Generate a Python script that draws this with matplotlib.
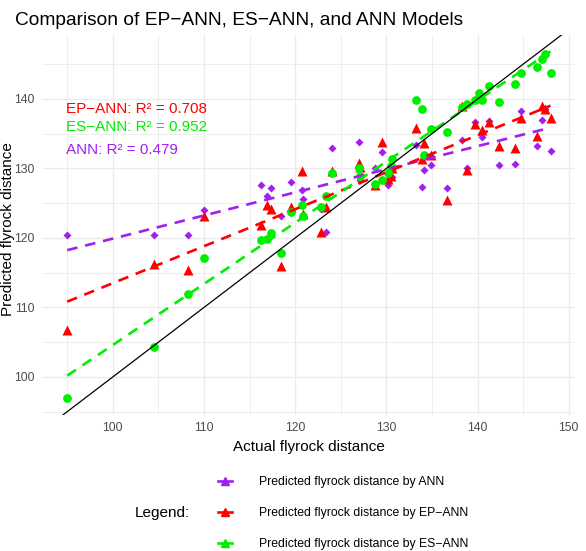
import numpy as np
import matplotlib.pyplot as plt
from matplotlib.lines import Line2D
from matplotlib.ticker import MultipleLocator

plt.rcParams["font.family"] = ["Liberation Sans", "DejaVu Sans"]

# actual flyrock distance (shared x) and predictions of each model
actual = [95.0, 104.5, 108.3, 110.0, 116.2, 116.9, 117.3, 118.4, 119.5, 120.7,
          120.9, 122.8, 123.4, 124.0, 127.0, 127.1, 128.7, 129.5, 130.2, 130.5,
          130.6, 133.3, 133.9, 134.1, 134.9, 136.6, 138.3, 138.8, 139.7, 140.2,
          140.5, 141.2, 142.4, 144.1, 144.8, 146.5, 147.1, 147.4, 148.0]
pred_ann = [120.4, 120.4, 120.4, 124.0, 127.6, 126.0, 127.2, 123.1, 128.1, 126.9,
            125.6, 124.1, 120.9, 132.9, 133.8, 128.4, 130.1, 132.3, 127.6, 129.6,
            128.8, 133.4, 127.3, 129.8, 130.5, 127.2, 134.1, 130.1, 136.7, 140.7,
            134.5, 136.8, 130.5, 130.6, 138.2, 133.2, 137.0, 138.6, 132.5]
pred_ep = [106.7, 116.3, 115.4, 123.1, 121.9, 124.8, 124.1, 116.0, 124.4, 129.6,
           123.5, 120.9, 124.5, 129.6, 130.8, 130.2, 127.6, 133.8, 128.5, 128.9,
           130.0, 135.8, 131.3, 133.6, 132.0, 125.5, 139.0, 129.8, 136.4, 140.7,
           135.6, 136.7, 133.2, 132.9, 137.2, 134.6, 139.0, 138.6, 137.3]
pred_es = [97.0, 104.3, 111.9, 117.1, 119.7, 119.8, 120.7, 117.9, 123.7, 124.8,
           123.2, 124.5, 126.1, 129.4, 130.1, 128.9, 127.7, 128.4, 129.4, 130.3,
           131.4, 139.8, 138.5, 132.0, 135.7, 135.3, 138.9, 139.2, 139.8, 140.8,
           139.8, 141.8, 139.5, 142.1, 143.8, 144.6, 145.8, 146.4, 143.8]

r2_labels = ["EP\u2212ANN: R\u00b2 = 0.708", "ES\u2212ANN: R\u00b2 = 0.952", "ANN: R\u00b2 = 0.479"]

purple = "#A020F0"
red = "#FF0000"
green = "#00EE00"

x = np.array(actual)

fig = plt.figure(figsize=(5.86, 5.51), dpi=100)
ax = fig.add_axes([0.0734, 0.2465, 0.9073, 0.690])

series = [
    (pred_ann, purple, "D", 4.4),
    (pred_ep, red, "^", 7.3),
    (pred_es, green, "o", 6.3),
]
for y, col, mk, ms in series:
    y = np.array(y)
    ax.plot(x, y, ls="none", marker=mk, ms=ms, color=col, mec="none", zorder=3)
    k, b = np.polyfit(x, y, 1)
    xx = np.array([x.min(), x.max()])
    ax.plot(xx, k * xx + b, color=col, lw=1.9, ls=(0, (4, 3)), zorder=4)

ax.plot([90, 155], [90, 155], color="black", lw=0.9, zorder=5)

ax.text(94.9, 138.6, r2_labels[0], color=red, fontsize=11, va="center")
ax.text(94.9, 135.9, r2_labels[1], color=green, fontsize=11, va="center")
ax.text(94.9, 132.6, r2_labels[2], color=purple, fontsize=11, va="center")

ax.set_xlim(92.35, 150.65)
ax.set_ylim(94.5, 149.2)
ax.xaxis.set_major_locator(MultipleLocator(10))
ax.xaxis.set_minor_locator(MultipleLocator(5))
ax.yaxis.set_major_locator(MultipleLocator(10))
ax.yaxis.set_minor_locator(MultipleLocator(5))
ax.grid(which="major", color="#EBEBEB", lw=1.0)
ax.grid(which="minor", color="#EBEBEB", lw=0.6)
ax.set_axisbelow(True)
for s in ax.spines.values():
    s.set_visible(False)
ax.tick_params(which="both", length=0, labelsize=8.8, labelcolor="#4D4D4D")
ax.tick_params(axis="y", pad=6)
ax.tick_params(axis="x", pad=5)

ax.set_xlabel("Actual flyrock distance", fontsize=11, labelpad=4)
ax.set_ylabel("Predicted flyrock distance", fontsize=11)
ax.yaxis.set_label_coords(-0.052, 0.49)
fig.text(0.025, 0.962, "Comparison of EP\u2212ANN, ES\u2212ANN, and ANN Models",
         fontsize=13.8, va="center")

handles = [
    Line2D([], [], color=purple, lw=1.9, marker="^", ms=6),
    Line2D([], [], color=red, lw=1.9, marker="^", ms=6),
    Line2D([], [], color=green, lw=1.9, marker="^", ms=6),
]
labels = ["Predicted flyrock distance by ANN",
          "Predicted flyrock distance by EP\u2212ANN",
          "Predicted flyrock distance by ES\u2212ANN"]
fig.legend(handles, labels, loc="center left", bbox_to_anchor=(0.362, 0.069),
           frameon=False, fontsize=8.8, handlelength=1.1, handletextpad=2.2,
           labelspacing=1.55, borderpad=0)
fig.text(0.23, 0.069, "Legend:", fontsize=11, va="center")

fig.savefig("out.png", dpi=100)
